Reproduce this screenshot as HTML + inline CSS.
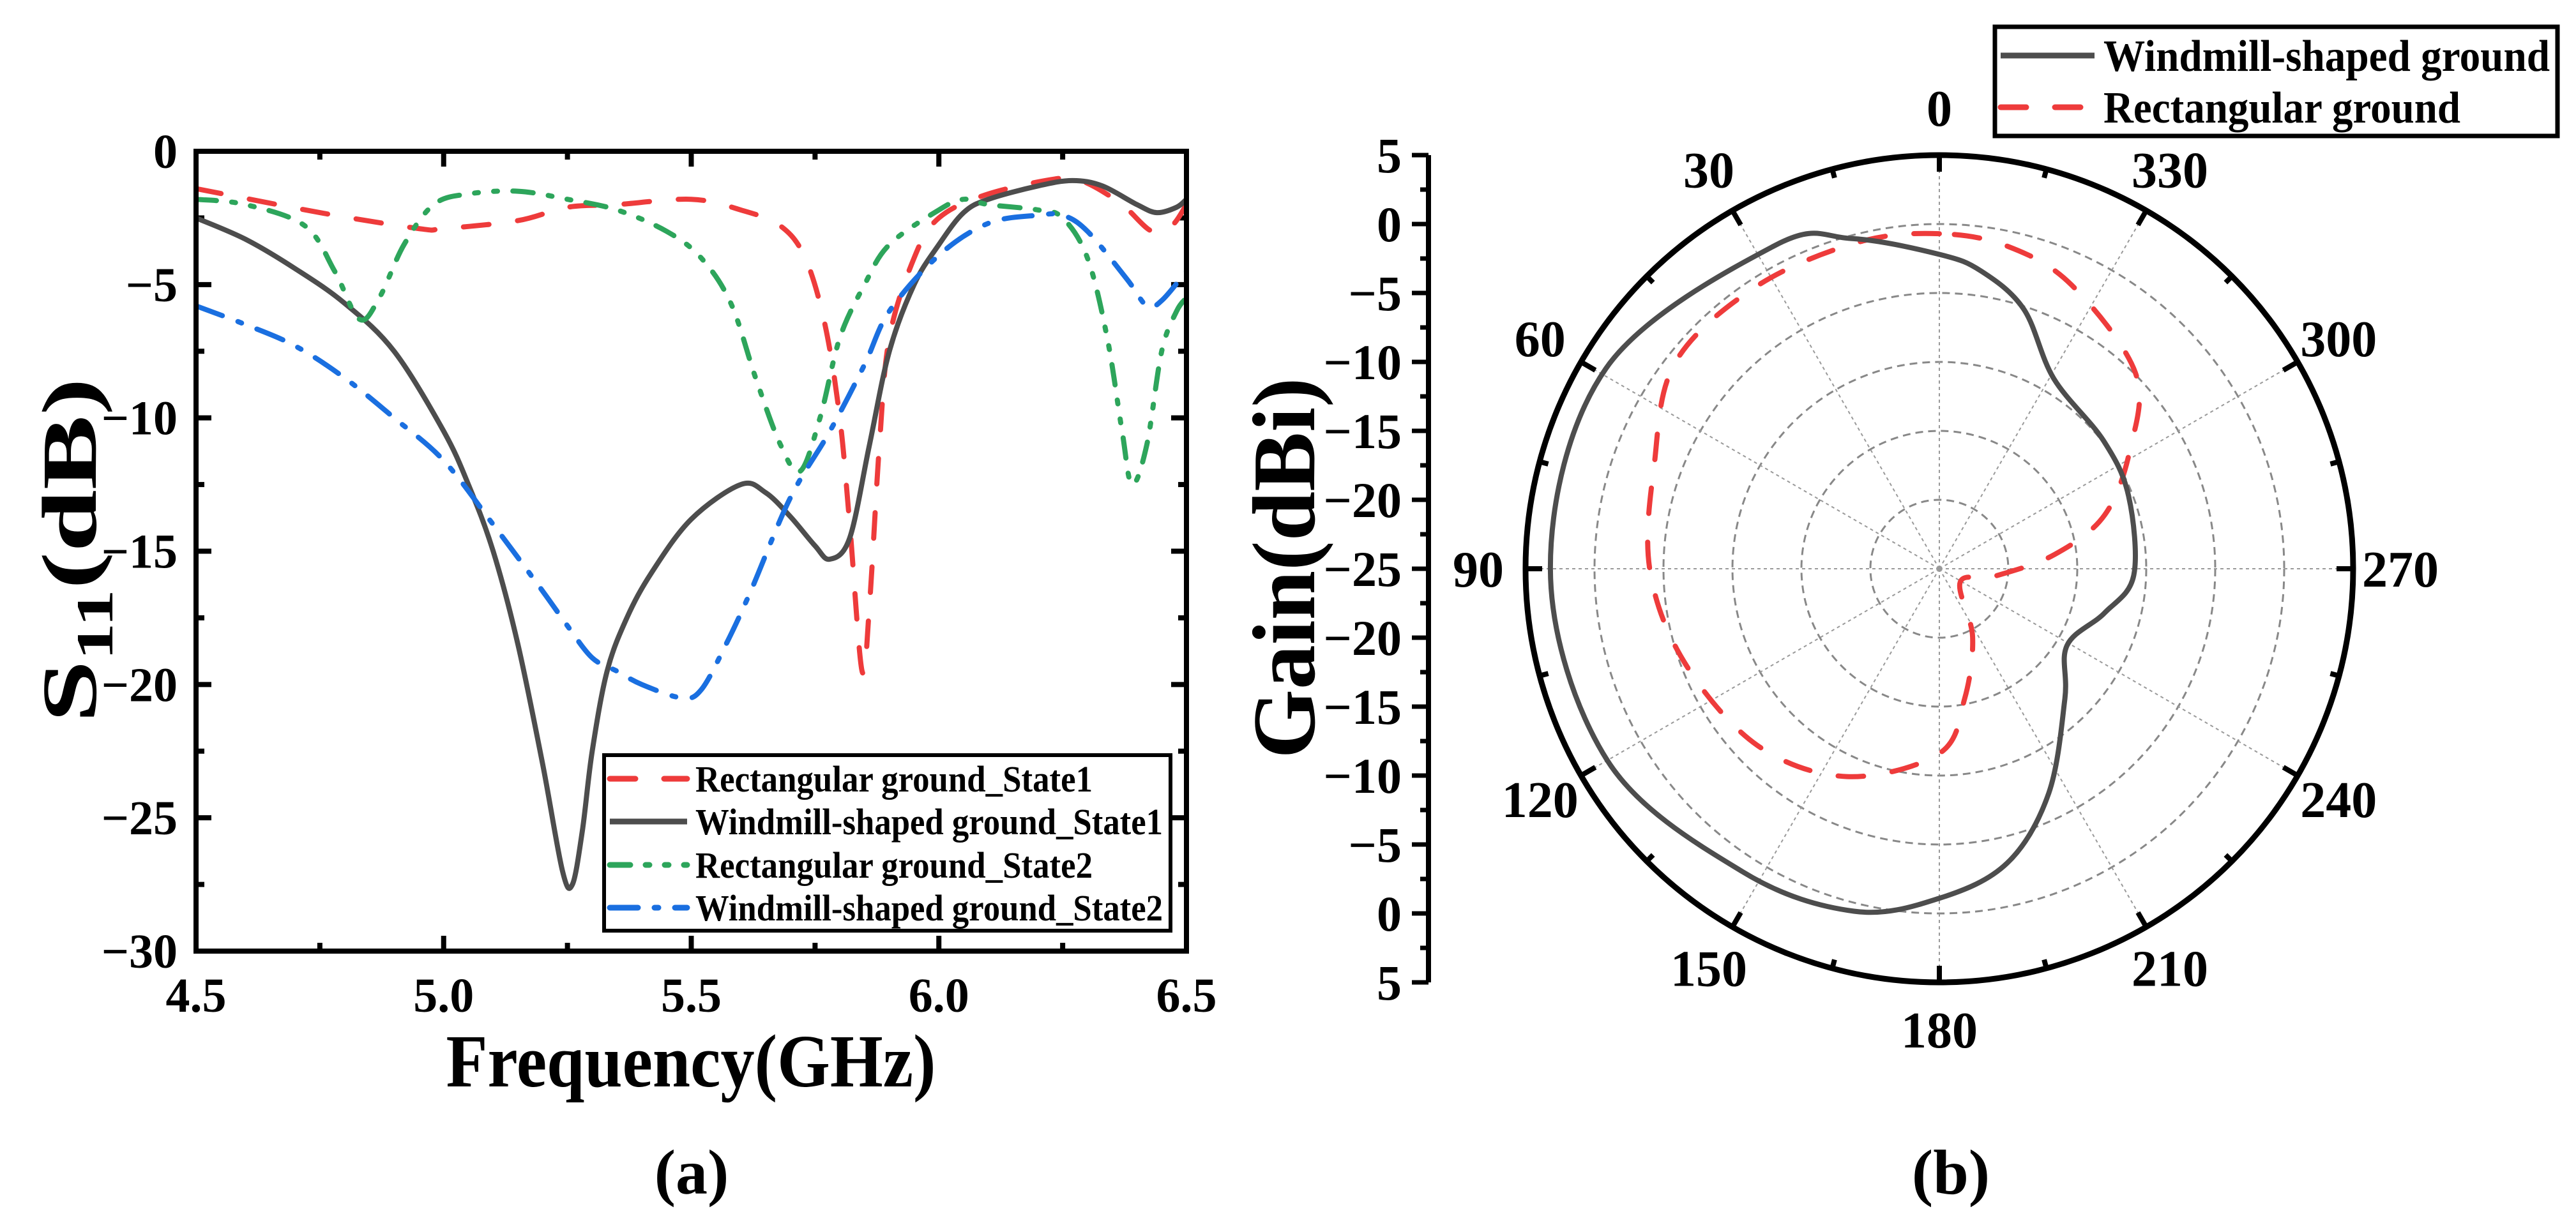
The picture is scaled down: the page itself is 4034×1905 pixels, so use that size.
<!DOCTYPE html>
<html><head><meta charset="utf-8"><style>
html,body{margin:0;padding:0;background:#fff;}
svg{display:block;font-family:"Liberation Serif",serif;font-weight:bold;}
</style></head><body>
<svg id="fig" width="4034" height="1905" viewBox="0 0 4034 1905" xmlns="http://www.w3.org/2000/svg">
<defs><clipPath id="clipA"><rect x="307" y="237" width="1551" height="1253"/></clipPath></defs>
<g id="panelA"></g>
<g id="panelB"></g>
</svg>
<script>
// ---------- Panel (a) data ----------
const xTicks = [4.5, 5.0, 5.5, 6.0, 6.5];
const xTickLabels = ["4.5", "5.0", "5.5", "6.0", "6.5"];
const yTicks = [0, -5, -10, -15, -20, -25, -30];
const rectS1F = [4.5,4.75,4.95,5.0,5.15,5.25,5.35,5.5,5.6,5.68,5.73,5.77,5.8,5.82,5.845,5.86,5.88,5.9,5.95,6.0,6.1,6.25,6.3,6.37,6.43,6.47,6.5];
const rectS1V = [-1.4,-2.3,-2.9,-2.9,-2.6,-2.1,-2.0,-1.8,-2.2,-2.8,-4.0,-6.5,-10,-14,-19.5,-17,-11,-7,-4,-2.5,-1.6,-1.0,-1.2,-2.0,-3.0,-2.8,-2.0];
const windS1F = [4.5,4.6,4.7,4.8,4.9,5.0,5.05,5.1,5.15,5.2,5.24,5.26,5.28,5.3,5.33,5.37,5.42,5.5,5.6,5.65,5.7,5.75,5.78,5.82,5.86,5.9,5.95,6.0,6.05,6.1,6.2,6.27,6.33,6.4,6.44,6.48,6.5];
const windS1V = [-2.5,-3.3,-4.4,-5.7,-7.5,-10.5,-12.5,-15,-18.5,-23,-27,-27.5,-25.5,-22.5,-19.5,-17.5,-15.8,-13.8,-12.5,-12.8,-13.7,-14.8,-15.3,-14.5,-11,-7.5,-5,-3.5,-2.3,-1.8,-1.3,-1.1,-1.3,-2.0,-2.3,-2.1,-1.8];
const rectS2F = [4.5,4.6,4.72,4.78,4.83,4.87,4.92,4.98,5.05,5.15,5.25,5.35,5.45,5.52,5.58,5.63,5.68,5.72,5.76,5.8,5.85,5.9,6.0,6.05,6.1,6.2,6.25,6.3,6.34,6.37,6.39,6.42,6.45,6.48,6.5];
const rectS2V = [-1.8,-2.0,-2.8,-4.5,-6.3,-5.5,-3.5,-2.0,-1.6,-1.5,-1.8,-2.2,-3.0,-4.0,-5.7,-8.5,-11,-12,-10,-7,-5,-3.5,-2.2,-1.8,-2.0,-2.2,-2.5,-4,-7,-10.5,-12.5,-11,-7.5,-6,-5.5];
const windS2F = [4.5,4.6,4.7,4.8,4.9,5.0,5.1,5.2,5.25,5.3,5.35,5.4,5.48,5.52,5.57,5.62,5.7,5.78,5.85,5.9,6.0,6.1,6.2,6.25,6.3,6.38,6.42,6.45,6.5];
const windS2V = [-5.8,-6.5,-7.3,-8.5,-10,-11.6,-14,-16.5,-17.8,-19,-19.5,-20,-20.5,-20.2,-18.5,-16.5,-13,-10.5,-8,-6,-3.9,-2.7,-2.4,-2.4,-3.0,-4.8,-5.8,-5.6,-4.5];
const legendA = ["Rectangular ground_State1","Windmill-shaped ground_State1","Rectangular ground_State2","Windmill-shaped ground_State2"];

// ---------- Panel (b) data ----------
const rTicks = [5, 0, -5, -10, -15, -20, -25];
const angleLabels = [0,30,60,90,120,150,180,210,240,270,300,330];
const windAng = [0,15,27,59,90,120,147,166,180,193,206,224,239,255,268,291,308,329,342,352];
const windGain = [-2.2,-0.2,1.3,3.2,3.2,2.8,1.2,0.6,-1.1,-3.1,-6.9,-11.9,-14.2,-12.6,-10.9,-10.3,-9.9,-8.9,-5.2,-3.2];
const rectAng = [0,14,33,52,70,90,110,134,156,180,191,206,237,262,277,288,302,315,335,348];
const rectGain = [-0.7,-0.6,-0.6,-0.7,-3,-4,-5.3,-6.6,-8.5,-11.6,-15.4,-19.5,-23.2,-21,-16.6,-12.4,-8.7,-4.9,-2.3,-1.1];

const NS="http://www.w3.org/2000/svg";
function mk(parent, tag, attrs, text){const e=document.createElementNS(NS,tag);for(const k in attrs)e.setAttribute(k,attrs[k]);if(text!==undefined)e.textContent=text;parent.appendChild(e);return e;}
function smooth(pts, closed){
  const n=pts.length; let d="M"+pts[0][0].toFixed(1)+","+pts[0][1].toFixed(1);
  const get=i=>closed?pts[(i+n)%n]:pts[Math.max(0,Math.min(n-1,i))];
  const lim=closed?n:n-1;
  for(let i=0;i<lim;i++){const p0=get(i-1),p1=get(i),p2=get(i+1),p3=get(i+2);
    const c1=[p1[0]+(p2[0]-p0[0])/6,p1[1]+(p2[1]-p0[1])/6],c2=[p2[0]-(p3[0]-p1[0])/6,p2[1]-(p3[1]-p1[1])/6];
    d+="C"+c1[0].toFixed(1)+","+c1[1].toFixed(1)+" "+c2[0].toFixed(1)+","+c2[1].toFixed(1)+" "+p2[0].toFixed(1)+","+p2[1].toFixed(1);}
  return d+(closed?"Z":"");
}

// ---------- Panel (a) ----------
const A=document.getElementById('panelA');
const L=307,R=1858,T=237,B=1490;
const xs=f=>L+(f-4.5)/2*(R-L);
const ys=v=>T+(-v)/30*(B-T);
for(let f=4.5;f<=6.5001;f+=0.25){const major=Math.abs((f*2)-Math.round(f*2))<1e-6;const len=major?24:13;
  let t=mk(A,'line',{x1:xs(f),x2:xs(f),y1:B,y2:B-len,stroke:'#000','stroke-width':8});
  
  t=mk(A,'line',{x1:xs(f),x2:xs(f),y1:T,y2:T+len,stroke:'#000','stroke-width':8});
  }
for(let v=0;v>=-30;v-=2.5){const major=(v%5===0);const len=major?24:13;
  let t=mk(A,'line',{x1:L,x2:L+len,y1:ys(v),y2:ys(v),stroke:'#000','stroke-width':8});
  
  t=mk(A,'line',{x1:R,x2:R-len,y1:ys(v),y2:ys(v),stroke:'#000','stroke-width':8});
  }
xTicks.forEach((f,i)=>{const t=mk(A,'text',{x:xs(f),y:B+95,'font-size':76,'text-anchor':'middle'},xTickLabels[i]);
  });
yTicks.forEach((v,i)=>{const lab=v===0?"0":"\u2212"+(-v);const t=mk(A,'text',{x:278,y:ys(v)+26,'font-size':76,'text-anchor':'end'},lab);
  });
const seriesA=[
 {f:rectS1F,v:rectS1V,c:'#ee3b3b',dash:'40 45',name:'series-rect-state1'},
 {f:windS1F,v:windS1V,c:'#4d4d4d',dash:'',name:'series-windmill-state1'},
 {f:rectS2F,v:rectS2V,c:'#2da55b',dash:'32 24 6 24 6 24',name:'series-rect-state2'},
 {f:windS2F,v:windS2V,c:'#1a6fe0',dash:'44 26 6 26',name:'series-windmill-state2'}];
const gA=mk(A,'g',{'clip-path':'url(#clipA)'});
seriesA.forEach(s=>{const pts=s.f.map((f,i)=>[xs(f),ys(s.v[i])]);
  const p=mk(gA,'path',{d:smooth(pts,false),fill:'none',stroke:s.c,'stroke-width':8,'stroke-dasharray':s.dash,'stroke-linecap':s.dash?'round':'butt','stroke-linejoin':'round'});
  });
let fr=mk(A,'rect',{x:L,y:T,width:R-L,height:B-T,fill:'none',stroke:'#000','stroke-width':8});

const lg=mk(A,'g',{});

mk(lg,'rect',{x:946,y:1183,width:887,height:275,fill:'#fff',stroke:'#000','stroke-width':6});
const lgY=[1220,1287,1355,1422];
legendA.forEach((name,i)=>{const s=seriesA[i];
  const ln=mk(lg,'line',{x1:955,x2:1076,y1:lgY[i],y2:lgY[i],stroke:s.c,'stroke-width':9,'stroke-dasharray':s.dash,'stroke-linecap':s.dash?'round':'butt'});
  
  const t=mk(lg,'text',{x:1089,y:lgY[i]+20,'font-size':58,textLength:(i%2?732:622),lengthAdjust:'spacingAndGlyphs'},name);
  });
let xt=mk(A,'text',{x:1082,y:1702,'font-size':118,'text-anchor':'middle',textLength:767,lengthAdjust:'spacingAndGlyphs'},"Frequency(GHz)");

let yt=mk(A,'text',{transform:'translate(150,862) rotate(-90)','font-size':122,'text-anchor':'middle',textLength:540,lengthAdjust:'spacingAndGlyphs'});

mk(yt,'tspan',{},"S");mk(yt,'tspan',{dy:26,'font-size':82},"11");mk(yt,'tspan',{dy:-26},"(dB)");
let ca=mk(A,'text',{x:1083,y:1870,'font-size':100,'text-anchor':'middle'},"(a)");


// ---------- Panel (b) ----------
const P=document.getElementById('panelB');
const cx=3037,cy=891,Rad=648;
const rs=g=>(g+25)/30*Rad;
const pxy=(a,r)=>[cx-r*Math.sin(a*Math.PI/180),cy-r*Math.cos(a*Math.PI/180)];
[-20,-15,-10,-5,0].forEach(g=>{const c=mk(P,'circle',{cx:cx,cy:cy,r:rs(g),fill:'none',stroke:'#888','stroke-width':3,'stroke-dasharray':'12 8'});
  });
for(let a=0;a<360;a+=30){const p=pxy(a,Rad);const l=mk(P,'line',{x1:cx,y1:cy,x2:p[0],y2:p[1],stroke:'#999','stroke-width':2,'stroke-dasharray':'5 5'});
  }
for(let a=0;a<360;a+=15){const len=a%30===0?26:14;const p1=pxy(a,Rad),p2=pxy(a,Rad-len);
  const l=mk(P,'line',{x1:p1[0],y1:p1[1],x2:p2[0],y2:p2[1],stroke:'#000','stroke-width':8});
  }
let oc=mk(P,'circle',{cx:cx,cy:cy,r:Rad,fill:'none',stroke:'#000','stroke-width':9});

angleLabels.forEach(a=>{const p=pxy(a,722);const t=mk(P,'text',{x:p[0],y:p[1]+28,'font-size':80,'text-anchor':'middle'},String(a));
  });
const seriesB=[
 {a:rectAng,g:rectGain,c:'#ee3b3b',dash:'40 45',name:'series-rect-ground'},
 {a:windAng,g:windGain,c:'#4d4d4d',dash:'',name:'series-windmill-ground'}];
seriesB.forEach(s=>{const pts=s.a.map((a,i)=>pxy(a,rs(s.g[i])));
  const p=mk(P,'path',{d:smooth(pts,true),fill:'none',stroke:s.c,'stroke-width':8,'stroke-dasharray':s.dash,'stroke-linecap':s.dash?'round':'butt','stroke-linejoin':'round'});
  });
const AX=2237;
let ra=mk(P,'line',{x1:AX,x2:AX,y1:cy-Rad,y2:cy+Rad,stroke:'#000','stroke-width':8});

for(let g=5;g>=-25;g-=2.5){const len=(g%5===0)?26:13;[-1,1].forEach(sd=>{
  if(g===-25&&sd===1)return;const y=cy+sd*rs(g);
  const t=mk(P,'line',{x1:AX,x2:AX-len,y1:y,y2:y,stroke:'#000','stroke-width':7});
  });}
rTicks.forEach(g=>{[-1,1].forEach(sd=>{if(g===-25&&sd===1)return;const y=cy+sd*rs(g);
  const lab=g<0?"\u2212"+(-g):String(g);
  const t=mk(P,'text',{x:2195,y:y+27,'font-size':78,'text-anchor':'end'},lab);
  });});
let gt=mk(P,'text',{transform:'translate(2058,890) rotate(-90)','font-size':140,'text-anchor':'middle',textLength:597,lengthAdjust:'spacingAndGlyphs'},"Gain(dBi)");

const lb=mk(P,'g',{});

mk(lb,'rect',{x:3124,y:42,width:881,height:171,fill:'#fff',stroke:'#000','stroke-width':7});
const lbY=[87,168],lbNames=["Windmill-shaped ground","Rectangular ground"],lbOrder=[1,0],lbW=[699,559];
lbNames.forEach((n,i)=>{const s=seriesB[lbOrder[i]];
  const ln=mk(lb,'line',{x1:3133,x2:3280,y1:lbY[i],y2:lbY[i],stroke:s.c,'stroke-width':9,'stroke-dasharray':s.dash,'stroke-linecap':s.dash?'round':'butt'});
  
  const t=mk(lb,'text',{x:3294,y:lbY[i]+24,'font-size':70,textLength:lbW[i],lengthAdjust:'spacingAndGlyphs'},n);
  });
let cb=mk(P,'text',{x:3055,y:1870,'font-size':100,'text-anchor':'middle'},"(b)");

</script>
</body></html>
